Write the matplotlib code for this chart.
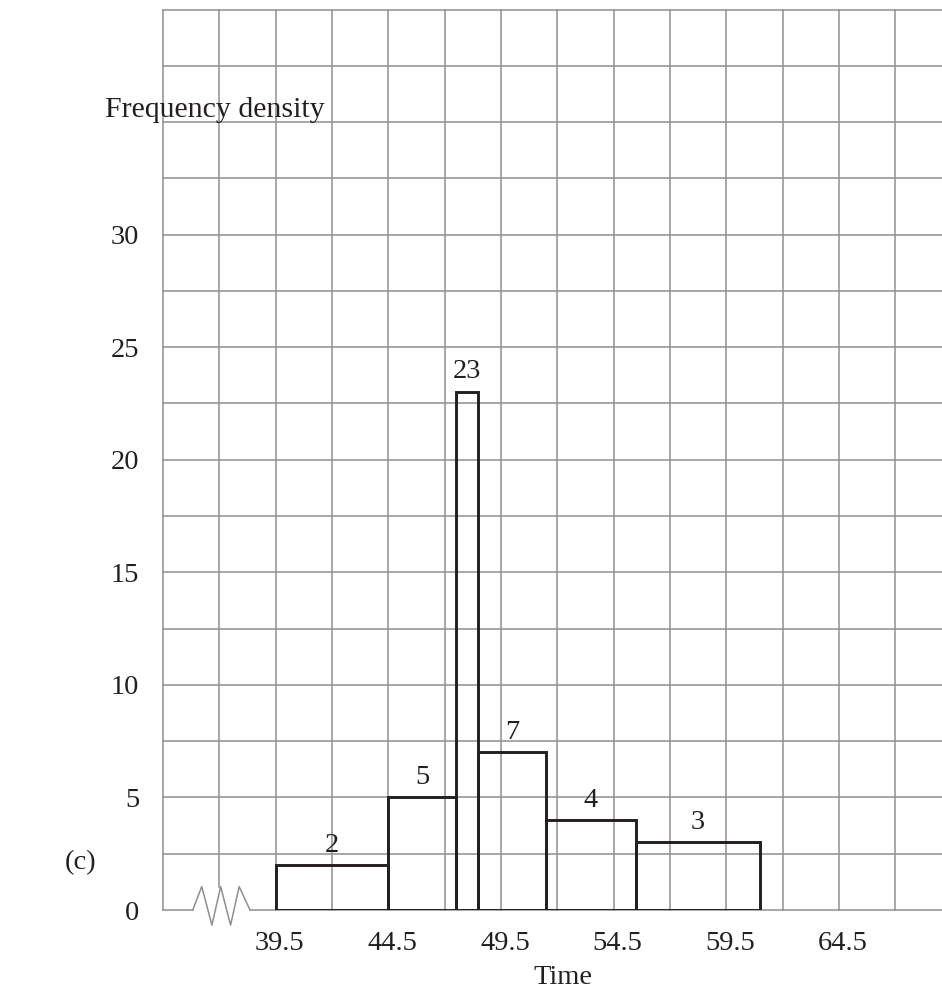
import numpy as np
import matplotlib
matplotlib.use('Agg')
import matplotlib.pyplot as plt
from matplotlib.transforms import ScaledTranslation

# class boundaries and frequency densities
left_edges = [39.5, 44.5, 47.5, 48.5, 51.5, 55.5]
widths = [5, 3, 1, 3, 4, 5.5]
densities = [2, 5, 23, 7, 4, 3]
bar_labels = ['2', '5', '23', '7', '4', '3']

x_ticks = [39.5, 44.5, 49.5, 54.5, 59.5, 64.5]
x_tick_labels = ['39.5', '44.5', '49.5', '54.5', '59.5', '64.5']
y_ticks = [0, 5, 10, 15, 20, 25, 30]
y_tick_labels = ['0', '5', '10', '15', '20', '25', '30']

# axis-break zigzag on the time axis
zig_x = [35.82, 36.22, 36.67, 37.06, 37.5, 37.88, 38.36]
zig_y = [0, 1.04, -0.67, 1.04, -0.67, 1.04, 0]

plt.rcParams['font.family'] = ['Liberation Serif', 'DejaVu Serif']
txt_c = '#231f20'
fs = 20.5

fig = plt.figure(figsize=(9.42, 9.92), dpi=100)
ax = fig.add_axes([163/942, 82/992, 779/942, 900.5/992])
xmin, xmax = 34.5, 34.5 + 779/22.53
ax.set_xlim(xmin, xmax)
ax.set_ylim(0, 40)
for s in ax.spines.values():
    s.set_visible(False)

grid_c = '#8f8f8f'
grid_lw = 1.1
gx = np.arange(xmin, xmax, 2.5)
for x in gx:
    if abs(x - 37) < 1e-6:
        ax.plot([x, x], [1.04, 40], color=grid_c, lw=grid_lw, zorder=1, clip_on=False)
    else:
        ax.plot([x, x], [0, 40], color=grid_c, lw=grid_lw, zorder=1, clip_on=False)
for y in np.arange(2.5, 40.01, 2.5):
    ax.plot([xmin, xmax], [y, y], color=grid_c, lw=grid_lw, zorder=1, clip_on=False)
ax.plot([xmin, zig_x[0]], [0, 0], color=grid_c, lw=grid_lw, zorder=1, clip_on=False)
ax.plot(zig_x, zig_y, color=grid_c, lw=grid_lw, zorder=1, clip_on=False)
ax.plot([zig_x[-1], xmax], [0, 0], color=grid_c, lw=grid_lw, zorder=1, clip_on=False)

ax.bar(left_edges, densities, width=widths, align='edge', fill=False,
       edgecolor=txt_c, linewidth=2.1, zorder=3)
for l, w, h, lab in zip(left_edges, widths, densities, bar_labels):
    off = 0.65 if h > 20 else 0.58
    ax.text(l + w / 2, h + off, lab, ha='center', va='baseline', fontsize=fs,
            color=txt_c)

ax.set_xticks(x_ticks)
ax.set_xticklabels(x_tick_labels, fontsize=fs, color=txt_c)
ax.set_yticks(y_ticks)
ax.set_yticklabels(y_tick_labels, fontsize=fs, color=txt_c)
ax.tick_params(axis='both', length=0)
ax.tick_params(axis='x', pad=15)
ax.tick_params(axis='y', pad=17)
shift = ScaledTranslation(4/100, 0, fig.dpi_scale_trans)
for t in ax.get_xticklabels():
    t.set_transform(t.get_transform() + shift)

ax.set_xlabel('Time', fontsize=fs, color=txt_c)
ax.xaxis.set_label_coords(0.513, -0.061)

ax.text(-0.0746, 0.888, 'Frequency density', transform=ax.transAxes,
        ha='left', va='center', fontsize=21.5, color=txt_c)
ax.text(-0.126, 0.053, '(c)', transform=ax.transAxes,
        ha='left', va='center', fontsize=fs, color=txt_c)

fig.savefig('out.png', dpi=100, facecolor='white')
